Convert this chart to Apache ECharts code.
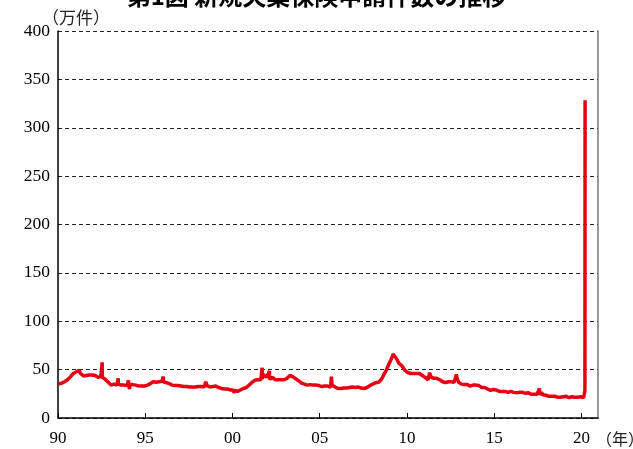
<!DOCTYPE html>
<html>
<head>
<meta charset="utf-8">
<script src="https://cdn.jsdelivr.net/npm/echarts@6/dist/echarts.min.js"></script>
<style>
  html, body { margin: 0; padding: 0; background: #fff; }
  #chart { width: 633px; height: 449px; }
</style>
</head>
<body>
<div id="chart"></div>
<script>
// 新規失業保険申請件数（万件）— 月次の読み取り値 + 週次スパイク
var startYear = 1990;
var monthly = [
  // 1990
  35.5, 35, 36, 36.5, 37.5, 38, 39.5, 41, 42.5, 44.5, 46, 46.5,
  // 1991
  47.5, 49, 49.5, 46, 44, 43.5, 43, 44, 43.5, 44.5, 45, 44.5,
  // 1992
  44, 44, 43, 42, 42.5, 43, 42, 41, 40, 39, 37, 35,
  // 1993
  34, 34.5, 35, 35, 34, 35, 34.5, 34, 34.5, 34, 34, 33.5,
  // 1994
  34, 34.5, 35, 34.5, 34, 34, 33.5, 33, 33, 33, 33, 33,
  // 1995
  33.5, 34, 34.5, 35.5, 36.5, 37.5, 37.5, 37, 37, 37.5, 37.5, 38,
  // 1996
  37.5, 37, 36.5, 36, 35.5, 35, 34, 34, 33.5, 33.5, 33.5, 33,
  // 1997
  33, 32.5, 32.5, 32.5, 32.5, 32.5, 32, 32, 32, 32, 32, 32.5,
  // 1998
  32.5, 32.5, 32.5, 32.5, 32, 32.5, 33.5, 32.5, 32, 32, 32.5, 32.5,
  // 1999
  33, 31.5, 31.5, 31, 30.5, 30, 30, 30, 30, 29.5, 29, 29,
  // 2000
  29, 28.5, 28, 27.5, 28, 29, 30, 30.5, 31, 31.5, 33, 34,
  // 2001
  35.5, 37, 38, 39, 39.5, 39.5, 39.5, 39.5, 40.5, 45, 44, 42,
  // 2002
  41.5, 40, 41, 42, 40, 39.5, 39.5, 39.5, 39.5, 39.5, 39.5, 39.5,
  // 2003
  40, 41, 42.5, 44, 43, 42.5, 42, 40.5, 39.5, 38.5, 37, 36,
  // 2004
  35.5, 35, 34.5, 34, 34, 34.5, 34, 34, 34, 34, 33.5, 33.5,
  // 2005
  33.5, 32.5, 33, 33, 33, 33, 32.5, 32, 34, 33.5, 32, 31.5,
  // 2006
  30.5, 30, 30.5, 31, 31, 31, 31, 31.5, 31.5, 31, 32, 31.5,
  // 2007
  31.5, 32.5, 32, 32.5, 31, 31, 30.5, 31.5, 31.5, 32.5, 33.5, 34,
  // 2008
  35, 35.5, 36.5, 37, 37, 38, 40, 43, 46, 48.5, 52, 55.5,
  // 2009
  58.5, 62, 66, 65, 62, 60, 56.5, 56, 54, 53, 49.5, 48,
  // 2010
  47, 47, 46, 46, 46, 46, 46, 47, 46, 45, 44, 42.5,
  // 2011
  42, 41, 39.5, 41.5, 42.5, 42, 41, 40.5, 41, 40, 39.5, 38.5,
  // 2012
  37.5, 36.5, 36.5, 37.5, 37.5, 38, 37.5, 37, 37, 37, 41, 37,
  // 2013
  36, 35, 35, 34.5, 34.5, 34.5, 34, 33, 31.5, 34, 33, 34,
  // 2014
  33.5, 33.5, 32.5, 31.5, 31, 31.5, 30.5, 30, 29.5, 28.5, 29.5, 29.5,
  // 2015
  29.5, 29, 28.5, 27.5, 27.5, 27.5, 27, 27.5, 27, 26.5, 27, 27.5,
  // 2016
  28, 26.5, 26, 26, 26.5, 26.5, 26, 26.5, 25.5, 25.5, 25, 26,
  // 2017
  25, 24.5, 24, 24.5, 24, 24.5, 24.5, 24, 26.5, 24, 24, 23.5,
  // 2018
  23, 22.5, 22.5, 22.5, 22.5, 22.5, 21.5, 21.5, 21, 21.5, 22.5, 22,
  // 2019
  22, 22.5, 21.5, 21, 22, 22, 21.5, 21.5, 21.5, 21.5, 22, 22,
  // 2020
  21.5, 21
];

// 単週の突出値 [年, 万件]
var spikes = [
  [1992.53, 57.5], [1993.45, 41], [1994.04, 39], [1994.1, 30],
  [1996.04, 43], [1998.47, 37.5], [2000.1, 26], [2001.7, 52],
  [2002.12, 48.5], [2005.67, 42.7], [2011.3, 46.8], [2012.83, 45.1],
  [2017.59, 30.7]
];

// 2020年3月の急増
var lastWeeks = [[2020.19, 21.1], [2020.2, 28.2], [2020.21, 328.3]];

var yearTicks = ['90', '95', '00', '05', '10', '15', '20'];

var points = monthly.map(function (v, i) {
  return [startYear + (i + 0.5) / 12, v];
});
points = points.concat(spikes).concat(lastWeeks);
points.sort(function (a, b) { return a[0] - b[0]; });

var serif = '"Liberation Serif", "DejaVu Serif", serif';
var cjk = '"Noto Sans CJK JP", sans-serif';

var chart = echarts.init(document.getElementById('chart'), null, { renderer: 'canvas' });
chart.setOption({
  animation: false,
  grid: { left: 58, right: 35, top: 31, bottom: 31 },
  xAxis: {
    type: 'value',
    min: 1990,
    max: 2020.95,
    interval: 5,
    axisLine: { lineStyle: { color: '#000', width: 1.5 } },
    axisTick: { show: true, inside: true, length: 5, lineStyle: { color: '#000' } },
    splitLine: { show: false },
    axisLabel: {
      color: '#000',
      fontFamily: serif,
      fontSize: 17,
      margin: 12,
      showMaxLabel: false,
      formatter: function (v) {
        var k = Math.round((v - 1990) / 5);
        return (Math.abs(v - 1990 - k * 5) < 1e-6 && yearTicks[k]) ? yearTicks[k] : '';
      }
    }
  },
  yAxis: [{
    type: 'value',
    min: 0,
    max: 400,
    interval: 50,
    axisLine: { show: true, lineStyle: { color: '#000', width: 1.5 } },
    axisTick: { show: false },
    axisLabel: { color: '#000', fontFamily: serif, fontSize: 17.5, margin: 8 },
    splitLine: { lineStyle: { color: '#222', type: [4, 3], width: 1 } }
  }, {
    type: 'value',
    position: 'right',
    min: 0,
    max: 400,
    interval: 50,
    axisLine: { show: true, lineStyle: { color: '#777', width: 1.5 } },
    axisTick: { show: false },
    axisLabel: { show: false },
    splitLine: { show: false }
  }],
  series: [{
    type: 'line',
    data: points,
    showSymbol: false,
    lineStyle: { color: '#e60012', width: 3.5 },
    z: 3
  }],
  graphic: [
    {
      type: 'text', left: 'center', top: -16,
      style: { text: '第1図 新規失業保険申請件数の推移', font: 'bold 24px ' + cjk, fill: '#000' }
    },
    {
      type: 'text', left: 42, top: 9,
      style: { text: '（万件）', font: '17px ' + cjk, fill: '#222' }
    },
    {
      type: 'text', left: 596, top: 431,
      style: { text: '（年）', font: '16px ' + cjk, fill: '#222' }
    }
  ]
});
</script>
</body>
</html>
